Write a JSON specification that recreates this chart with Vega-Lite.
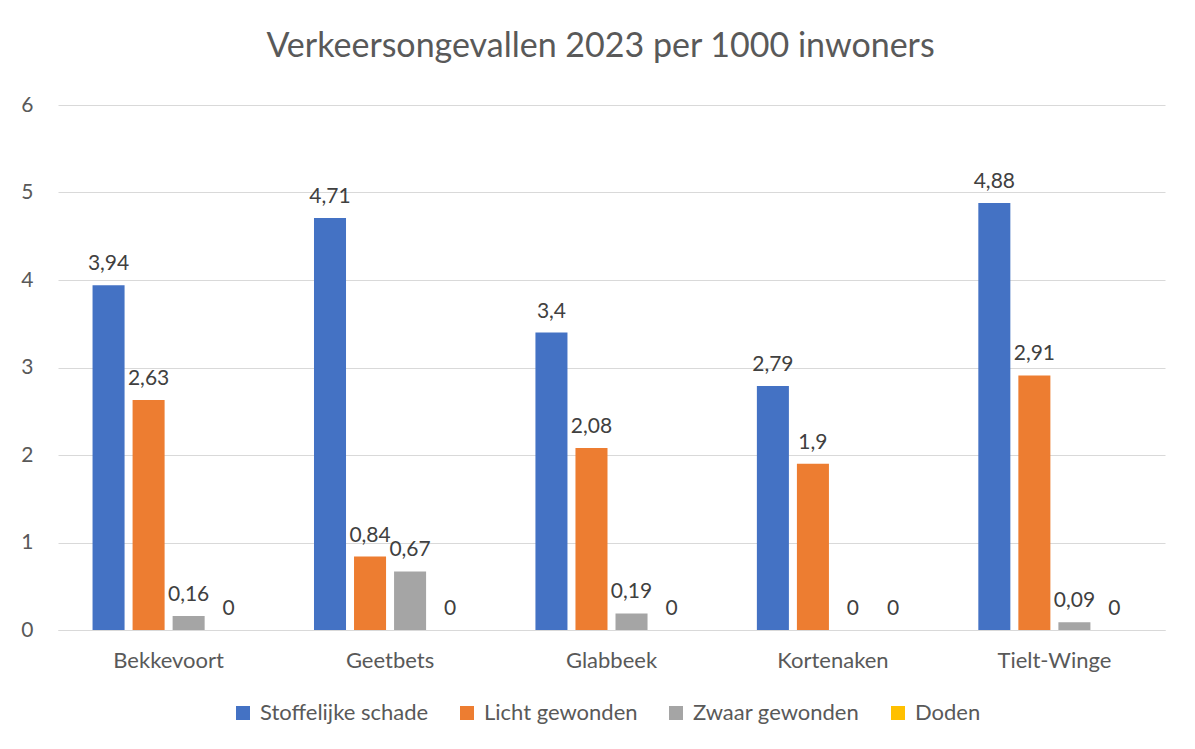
{
  "$schema": "https://vega.github.io/schema/vega-lite/v6.json",
  "width": 1107,
  "height": 525,
  "autosize": "none",
  "padding": {"left": 58, "top": 105, "right": 30, "bottom": 119},
  "background": "white",
  "title": {
    "text": "Verkeersongevallen 2023 per 1000 inwoners",
    "fontSize": 34,
    "font": "Lato",
    "fontWeight": "normal",
    "color": "#595959",
    "offset": 30,
    "dx": -11
  },
  "config": {
    "locale": {"number": {"decimal": ",", "thousands": ".", "grouping": [3], "currency": ["€", ""]}},
    "view": {"stroke": null},
    "font": "Lato"
  },
  "data": {
    "values": [
      {"gemeente": "Bekkevoort", "type": "Stoffelijke schade", "waarde": 3.94},
      {"gemeente": "Bekkevoort", "type": "Licht gewonden", "waarde": 2.63},
      {"gemeente": "Bekkevoort", "type": "Zwaar gewonden", "waarde": 0.16},
      {"gemeente": "Bekkevoort", "type": "Doden", "waarde": 0},
      {"gemeente": "Geetbets", "type": "Stoffelijke schade", "waarde": 4.71},
      {"gemeente": "Geetbets", "type": "Licht gewonden", "waarde": 0.84},
      {"gemeente": "Geetbets", "type": "Zwaar gewonden", "waarde": 0.67},
      {"gemeente": "Geetbets", "type": "Doden", "waarde": 0},
      {"gemeente": "Glabbeek", "type": "Stoffelijke schade", "waarde": 3.4},
      {"gemeente": "Glabbeek", "type": "Licht gewonden", "waarde": 2.08},
      {"gemeente": "Glabbeek", "type": "Zwaar gewonden", "waarde": 0.19},
      {"gemeente": "Glabbeek", "type": "Doden", "waarde": 0},
      {"gemeente": "Kortenaken", "type": "Stoffelijke schade", "waarde": 2.79},
      {"gemeente": "Kortenaken", "type": "Licht gewonden", "waarde": 1.9},
      {"gemeente": "Kortenaken", "type": "Zwaar gewonden", "waarde": 0},
      {"gemeente": "Kortenaken", "type": "Doden", "waarde": 0},
      {"gemeente": "Tielt-Winge", "type": "Stoffelijke schade", "waarde": 4.88},
      {"gemeente": "Tielt-Winge", "type": "Licht gewonden", "waarde": 2.91},
      {"gemeente": "Tielt-Winge", "type": "Zwaar gewonden", "waarde": 0.09},
      {"gemeente": "Tielt-Winge", "type": "Doden", "waarde": 0}
    ]
  },
  "encoding": {
    "x": {
      "field": "gemeente",
      "type": "nominal",
      "sort": null,
      "scale": {"paddingInner": 0.313, "paddingOuter": 0.156},
      "axis": {
        "title": null,
        "labelAngle": 0,
        "labelFontSize": 22,
        "labelColor": "#595959",
        "labelPadding": 20,
        "ticks": false,
        "domainColor": "#D9D9D9",
        "domainWidth": 1
      }
    },
    "xOffset": {
      "field": "type",
      "type": "nominal",
      "sort": ["Stoffelijke schade", "Licht gewonden", "Zwaar gewonden", "Doden"],
      "scale": {"paddingInner": 0.2}
    },
    "y": {
      "field": "waarde",
      "type": "quantitative",
      "scale": {"domain": [0, 6], "nice": false},
      "axis": {
        "title": null,
        "values": [0, 1, 2, 3, 4, 5, 6],
        "domain": false,
        "ticks": false,
        "labelFontSize": 21,
        "labelColor": "#595959",
        "labelPadding": 25,
        "gridColor": "#D9D9D9",
        "gridWidth": 1
      }
    }
  },
  "layer": [
    {
      "mark": {"type": "bar"},
      "encoding": {
        "color": {
          "field": "type",
          "type": "nominal",
          "sort": ["Stoffelijke schade", "Licht gewonden", "Zwaar gewonden", "Doden"],
          "scale": {
            "domain": ["Stoffelijke schade", "Licht gewonden", "Zwaar gewonden", "Doden"],
            "range": ["#4472C4", "#ED7D31", "#A5A5A5", "#FFC000"]
          },
          "legend": {
            "title": null,
            "orient": "none",
            "direction": "horizontal",
            "legendX": 174,
            "legendY": 597,
            "symbolType": "square",
            "symbolSize": 196,
            "symbolStrokeWidth": 0,
            "labelFontSize": 22,
            "labelLimit": 400,
            "labelColor": "#595959",
            "labelOffset": 6,
            "columnPadding": 27
          }
        }
      }
    },
    {
      "mark": {"type": "text", "baseline": "bottom", "dy": -11, "fontSize": 21, "color": "#404040"},
      "encoding": {
        "text": {"field": "waarde", "type": "quantitative", "format": ".2~f"}
      }
    }
  ]
}
